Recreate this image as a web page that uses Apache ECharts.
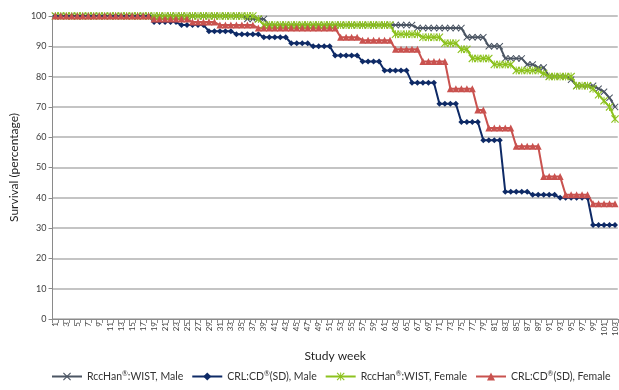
<!DOCTYPE html>
<html>
<head>
<meta charset="utf-8">
<script src="https://cdn.jsdelivr.net/npm/echarts@6/dist/echarts.min.js"></script>
<style>
  html, body { margin: 0; padding: 0; background: #fff; }
  #chart { width: 619px; height: 390px; }
</style>
</head>
<body>
<div id="chart"></div>
<script>
// study weeks 1..103
const weeks = [];
for (let w = 1; w <= 103; w++) weeks.push(String(w));

// survival (%) per week
const rccMale = [
  100,100,100,100,100,100,100,100,100,100,
  100,100,100,100,100,100,100,100,100,100,
  100,100,100,100,100,100,100,100,100,100,
  100,100,100,100,100,99,99,99,99,97,
  97,97,97,97,97,97,97,97,97,97,
  97,97,97,97,97,97,97,97,97,97,
  97,97,97,97,97,97,96,96,96,96,
  96,96,96,96,96,93,93,93,93,90,
  90,90,86,86,86,86,84,84,83,83,
  80,80,80,80,79,77,77,77,77,76,
  75,73,70
];
const crlMale = [
  100,100,100,100,100,100,100,100,100,100,
  100,100,100,100,100,100,100,100,98,98,
  98,98,98,97,97,97,97,97,95,95,
  95,95,95,94,94,94,94,94,93,93,
  93,93,93,91,91,91,91,90,90,90,
  90,87,87,87,87,87,85,85,85,85,
  82,82,82,82,82,78,78,78,78,78,
  71,71,71,71,65,65,65,65,59,59,
  59,59,42,42,42,42,42,41,41,41,
  41,41,40,40,40,40,40,40,31,31,
  31,31,31
];
const rccFemale = [
  100,100,100,100,100,100,100,100,100,100,
  100,100,100,100,100,100,100,100,100,100,
  100,100,100,100,100,100,100,100,100,100,
  100,100,100,100,100,100,100,99,97,97,
  97,97,97,97,97,97,97,97,97,97,
  97,97,97,97,97,97,97,97,97,97,
  97,97,94,94,94,94,94,93,93,93,
  93,91,91,91,89,89,86,86,86,86,
  84,84,84,84,82,82,82,82,82,81,
  80,80,80,80,80,77,77,77,76,74,
  72,70,66
];
const crlFemale = [
  100,100,100,100,100,100,100,100,100,100,
  100,100,100,100,100,100,100,100,99,99,
  99,99,99,99,99,98,98,98,98,98,
  97,97,97,97,97,97,97,96,96,96,
  96,96,96,96,96,96,96,96,96,96,
  96,96,93,93,93,93,92,92,92,92,
  92,92,89,89,89,89,89,85,85,85,
  85,85,76,76,76,76,76,69,69,63,
  63,63,63,63,57,57,57,57,57,47,
  47,47,47,41,41,41,41,41,38,38,
  38,38,38
];

const seriesNames = [
  'RccHan{s|®}:WIST, Male',
  'CRL:CD{s|®}(SD), Male',
  'RccHan{s|®}:WIST, Female',
  'CRL:CD{s|®}(SD), Female'
];

const crossPath = 'path://M0,1L1,0L5,4L9,0L10,1L6,5L10,9L9,10L5,6L1,10L0,9L4,5Z';
const starPath = 'path://M0,1L1,0L5,4L9,0L10,1L6,5L10,9L9,10L5,6L1,10L0,9L4,5Z M4.4,0L5.6,0L5.6,10L4.4,10Z';

const font = 'Lato, "Open Sans", sans-serif';

function lineSeries(name, data, color, symbol, size) {
  return {
    name: name,
    type: 'line',
    data: data,
    symbol: symbol,
    symbolSize: size,
    showAllSymbol: true,
    lineStyle: { color: color, width: 2 },
    itemStyle: { color: color },
    emphasis: { disabled: true }
  };
}

const chart = echarts.init(document.getElementById('chart'));
chart.setOption({
  animation: false,
  textStyle: { fontFamily: font },
  grid: { left: 52, right: 0, top: 16, bottom: 71 },
  legend: {
    left: 46,
    bottom: 3,
    width: 900,
    itemWidth: 30,
    itemHeight: 10,
    itemGap: 8,
    textStyle: {
      fontSize: 10.5,
      color: '#333333',
      fontFamily: font,
      rich: { s: { fontSize: 7, verticalAlign: 'bottom', padding: [0, 0, 5, 0], color: '#333333' } }
    },
    data: seriesNames
  },
  xAxis: {
    type: 'category',
    data: weeks,
    boundaryGap: true,
    name: 'Study week',
    nameLocation: 'middle',
    nameGap: 31,
    nameTextStyle: { fontSize: 12, color: '#1f1f1f' },
    axisLine: { lineStyle: { color: '#8a8a8a', width: 1 } },
    axisTick: { show: true, interval: 0, length: 4, lineStyle: { color: '#8a8a8a' } },
    axisLabel: { interval: 1, rotate: 90, fontSize: 8, color: '#404040', margin: 3 },
    splitLine: { show: false }
  },
  yAxis: {
    type: 'value',
    min: 0,
    max: 100,
    interval: 10,
    name: 'Survival (percentage)',
    nameLocation: 'middle',
    nameGap: 28,
    nameTextStyle: { fontSize: 12, color: '#1f1f1f' },
    axisLine: { show: true, lineStyle: { color: '#8a8a8a', width: 1 } },
    axisTick: { show: true, length: 4, lineStyle: { color: '#8a8a8a' } },
    axisLabel: { fontSize: 9, color: '#404040', margin: 6 },
    splitLine: { lineStyle: { color: '#c4c4c4', width: 2 } }
  },
  series: [
    lineSeries(seriesNames[0], rccMale, '#4b5563', crossPath, 7),
    lineSeries(seriesNames[1], crlMale, '#0e2a66', 'diamond', 6),
    lineSeries(seriesNames[2], rccFemale, '#8dc21f', starPath, 8),
    lineSeries(seriesNames[3], crlFemale, '#c9524f', 'triangle', 7)
  ]
});
</script>
</body>
</html>
